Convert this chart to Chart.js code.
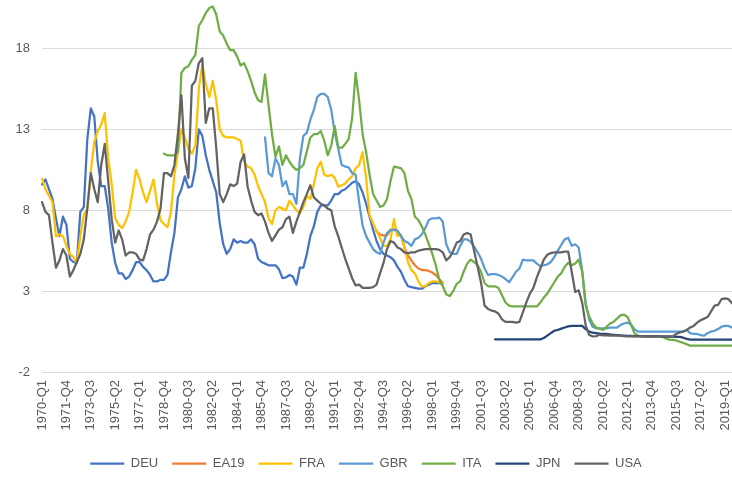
<!DOCTYPE html>
<html>
<head>
<meta charset="utf-8">
<script src="https://cdn.jsdelivr.net/npm/chart.js@4.4.1/dist/chart.umd.min.js"></script>
<style>
  html, body { margin: 0; padding: 0; background: #ffffff; }
</style>
</head>
<body>
<canvas id="rates" width="732" height="488"></canvas>
<script>
// quarterly short-term rates, 1970-Q1 .. 2019-Q3
const firstYear = 1970;
const quarterCount = 199;
const yTicks = [-2, 3, 8, 13, 18];

const deu = [ // from 1970-Q1
  9.6, 9.9, 9.3, 8.7, 7.5, 6.4, 7.6, 7.1, 5.0, 4.8,
  4.75, 7.9, 8.2, 12.4, 14.3, 13.8, 11.0, 9.5, 9.5, 8.1,
  6.0, 4.75, 4.1, 4.1, 3.75, 3.9, 4.3, 4.8, 4.8, 4.5,
  4.3, 4.0, 3.6, 3.6, 3.7, 3.7, 4.0, 5.4, 6.6, 8.8,
  9.3, 10.1, 9.4, 9.5, 10.6, 13.0, 12.6, 11.4, 10.5, 9.8,
  9.1, 7.2, 5.9, 5.3, 5.6, 6.2, 6.0, 6.1, 6.0, 6.0,
  6.2, 5.9, 5.0, 4.8, 4.7, 4.6, 4.6, 4.6, 4.35, 3.8,
  3.85, 4.0, 3.9, 3.4, 4.45, 4.45, 5.3, 6.4, 7.0, 7.9,
  8.3, 8.3, 8.3, 8.6, 9.0, 9.0, 9.2, 9.3, 9.5, 9.7,
  9.8, 9.6, 9.1, 8.4, 7.6, 6.8, 6.1, 5.6, 5.3, 5.2,
  5.1, 4.9, 4.5, 4.2, 3.7, 3.3, 3.25, 3.2, 3.15, 3.15,
  3.3, 3.4, 3.5, 3.5, 3.5, 3.45
];

const ea19Start = '1994-Q1';
const ea19 = [
  6.7, 6.5, 6.45, 6.45, 6.8, 6.8, 6.65, 6.45, 5.7, 5.2,
  4.9, 4.6, 4.4, 4.3, 4.3, 4.25, 4.15, 4.0, 3.75, 3.5
];

const fra = [ // from 1970-Q1
  9.95, 9.3, 8.9, 8.5, 6.4, 6.5, 6.4, 5.8, 5.3, 5.1,
  4.75, 6.4, 7.7, 8.1, 10.4, 12.2, 12.9, 13.3, 14.0, 11.2,
  9.6, 7.5, 7.1, 6.9, 7.3, 7.9, 9.1, 10.5, 9.9, 9.1,
  8.5, 9.2, 9.9, 8.4, 7.4, 7.15, 6.95, 7.9, 10.2, 11.6,
  13.0, 12.5, 11.8, 11.5, 12.0, 15.5, 17.0, 15.8, 15.0, 16.0,
  14.8, 13.0, 12.6, 12.5, 12.5, 12.5, 12.4, 12.3, 11.0, 10.7,
  10.6, 10.2, 9.5, 9.0, 8.5, 7.5, 7.15, 8.0, 8.2, 8.1,
  8.0, 8.6, 8.3, 8.0, 7.8, 8.2, 8.9, 8.7, 9.6, 10.6,
  11.0, 10.2, 10.1, 10.2, 10.0, 9.45, 9.55, 9.65, 9.9, 10.1,
  10.6, 10.8, 11.6, 10.0, 7.7, 7.2, 6.7, 6.3, 5.8, 5.8,
  6.2, 7.45, 6.4, 6.5, 5.7, 4.8, 4.3, 4.1, 3.6, 3.3,
  3.3, 3.5, 3.6, 3.6, 3.55, 3.45
];

const gbrStart = '1986-Q1';
const gbr = [
  12.5, 10.3, 10.1, 11.2, 10.8, 9.5,
  9.8, 9.0, 9.0, 8.4, 11.2, 12.6, 12.8, 13.6, 14.2, 15.0,
  15.2, 15.2, 15.0, 14.2, 12.8, 11.8, 10.8, 10.7, 10.65, 10.3,
  10.2, 8.5, 7.05, 6.4, 6.0, 5.6, 5.4, 5.3, 6.0, 6.6,
  6.75, 6.8, 6.75, 6.4, 6.1, 6.0, 5.8, 6.2, 6.3, 6.5,
  6.9, 7.4, 7.5, 7.5, 7.55, 7.3, 5.9, 5.4, 5.3, 5.3,
  5.8, 6.2, 6.2, 6.05, 5.75, 5.4, 5.0, 4.4, 4.0, 4.05,
  4.05, 4.0, 3.9, 3.75, 3.55, 3.85, 4.2, 4.4, 4.95, 4.9,
  4.9, 4.9, 4.7, 4.55, 4.6, 4.65, 4.8, 5.1, 5.5, 5.85,
  6.2, 6.3, 5.8, 5.9, 5.7, 4.3, 2.3, 1.25, 0.8, 0.7,
  0.7, 0.7, 0.7, 0.75, 0.75, 0.75, 0.9, 1.0, 1.05, 0.95,
  0.65, 0.5, 0.5, 0.5, 0.5, 0.5, 0.5, 0.5, 0.5, 0.5,
  0.5, 0.5, 0.5, 0.5, 0.5, 0.6, 0.4, 0.35, 0.35, 0.28,
  0.25, 0.4, 0.5, 0.55, 0.65, 0.8, 0.85, 0.85, 0.75
];

const itaStart = '1978-Q4';
const ita = [
  11.5, 11.4, 11.4, 11.4, 11.6,
  16.5, 16.8, 16.9, 17.3, 17.6, 19.4, 19.75, 20.2, 20.5, 20.6,
  20.1, 19.05, 18.8, 18.3, 17.9, 17.9, 17.5, 16.95, 17.1, 16.6,
  16.0, 15.3, 14.8, 14.7, 16.4, 14.5, 12.7, 11.3, 11.95, 10.8,
  11.4, 11.0, 10.7, 10.5, 10.6, 10.8, 11.65, 12.5, 12.7, 12.7,
  12.9, 12.3, 11.4, 12.0, 13.2, 11.9, 11.85, 12.1, 12.4, 13.7,
  16.5, 14.8, 12.7, 11.6, 10.2, 9.0, 8.6, 8.2, 8.3, 8.7,
  9.8, 10.7, 10.65, 10.6, 10.3, 9.2, 8.7, 7.6, 7.4, 7.0,
  6.5, 5.9, 5.3, 4.6, 3.7, 3.3, 2.8, 2.7, 3.0, 3.45,
  3.6, 4.2, 4.7, 4.95, 4.8, 4.6, 4.2, 3.5, 3.3, 3.3,
  3.3, 3.2, 2.75, 2.3, 2.1, 2.05, 2.05, 2.05, 2.05, 2.05,
  2.05, 2.05, 2.05, 2.3, 2.6, 2.85, 3.2, 3.55, 3.9, 4.1,
  4.5, 4.75, 4.6, 4.7, 4.95, 4.2, 2.1, 1.45, 1.0, 0.75,
  0.68, 0.6, 0.8, 1.0, 1.1, 1.3, 1.5, 1.55, 1.4, 0.95,
  0.4, 0.25, 0.2, 0.2, 0.2, 0.2, 0.2, 0.2, 0.18, 0.08,
  0.0, -0.02, -0.05, -0.13, -0.2, -0.28, -0.37, -0.37, -0.37, -0.37,
  -0.37, -0.37, -0.37, -0.37, -0.37, -0.37, -0.37, -0.37, -0.37
];

const jpnStart = '2002-Q3';
const jpn = [
  0.02, 0.02, 0.02, 0.02, 0.02, 0.02, 0.02, 0.02, 0.02, 0.02,
  0.02, 0.02, 0.02, 0.02, 0.1, 0.25, 0.4, 0.55, 0.6, 0.68,
  0.75, 0.82, 0.85, 0.85, 0.85, 0.85, 0.65, 0.5, 0.43, 0.4,
  0.37, 0.36, 0.35, 0.32, 0.3, 0.28, 0.26, 0.25, 0.24, 0.23,
  0.22, 0.22, 0.22, 0.21, 0.21, 0.2, 0.2, 0.2, 0.19, 0.19,
  0.18, 0.18, 0.17, 0.17, 0.12, 0.05, 0.0, 0.0, 0.0, 0.0,
  0.0, 0.0, 0.0, 0.0, 0.0, 0.0, 0.0, 0.0, 0.0
];

const usa = [ // from 1970-Q1
  8.5, 7.9, 7.7, 6.0, 4.45, 4.9, 5.6, 5.2, 3.9, 4.3,
  4.8, 5.3, 6.2, 8.1, 10.3, 9.3, 8.5, 10.8, 12.1, 9.8,
  7.45, 6.0, 6.75, 6.2, 5.2, 5.4, 5.4, 5.3, 4.95, 4.9,
  5.6, 6.5, 6.8, 7.3, 8.1, 10.3, 10.3, 10.1, 10.8, 12.7,
  15.1, 11.2, 10.0, 15.7, 16.0, 17.1, 17.4, 13.4, 14.3, 14.3,
  11.85, 9.0, 8.5, 9.0, 9.6, 9.5, 9.65, 11.0, 11.45, 9.45,
  8.6, 7.9, 7.7, 7.8, 7.3, 6.6, 6.1, 6.45, 6.8, 6.95,
  7.45, 7.6, 6.6, 7.3, 7.9, 8.5, 9.0, 9.55, 8.8, 8.6,
  8.4, 8.3, 8.1, 8.0, 7.0, 6.4, 5.7, 5.0, 4.4, 3.8,
  3.35, 3.4, 3.2, 3.2, 3.2, 3.25, 3.4, 4.1, 4.75, 5.6,
  6.1, 6.0, 5.7, 5.6, 5.4, 5.35, 5.4, 5.4, 5.5, 5.55,
  5.6, 5.6, 5.6, 5.6, 5.55, 5.4, 4.9, 5.1, 5.5, 6.0,
  6.1, 6.5, 6.6, 6.5, 5.5, 4.5, 3.5, 2.1, 1.9, 1.8,
  1.75, 1.6, 1.25, 1.1, 1.1, 1.1, 1.05, 1.1, 1.7, 2.3,
  2.85, 3.2, 3.85, 4.4, 4.95, 5.25, 5.35, 5.4, 5.4, 5.4,
  5.45, 5.45, 4.2, 2.95, 3.05, 2.3, 0.9, 0.3, 0.2, 0.22,
  0.3, 0.27, 0.27, 0.25, 0.25, 0.25, 0.25, 0.22, 0.2, 0.2,
  0.2, 0.2, 0.2, 0.2, 0.2, 0.2, 0.2, 0.2, 0.2, 0.2,
  0.2, 0.2, 0.35, 0.45, 0.5, 0.6, 0.75, 0.85, 1.05, 1.2,
  1.3, 1.4, 1.75, 2.1, 2.15, 2.5, 2.55, 2.5, 2.25
];

const quarters = [];
for (let i = 0; i < quarterCount; i++) {
  quarters.push((firstYear + Math.floor(i / 4)) + '-Q' + (i % 4 + 1));
}

function fromQuarter(start, values) {
  const out = new Array(quarterCount).fill(null);
  const at = quarters.indexOf(start);
  values.forEach((v, k) => { out[at + k] = v; });
  return out;
}

const series = [
  { label: 'DEU',  data: fromQuarter('1970-Q1', deu), color: '#4472C4' },
  { label: 'EA19', data: fromQuarter(ea19Start, ea19), color: '#ED7D31' },
  { label: 'FRA',  data: fromQuarter('1970-Q1', fra), color: '#FFC000' },
  { label: 'GBR',  data: fromQuarter(gbrStart, gbr), color: '#5B9BD5' },
  { label: 'ITA',  data: fromQuarter(itaStart, ita), color: '#70AD47' },
  { label: 'JPN',  data: fromQuarter(jpnStart, jpn), color: '#264478' },
  { label: 'USA',  data: fromQuarter('1970-Q1', usa), color: '#636363' }
];

const font = { family: '"Liberation Sans", Arial, sans-serif', size: 13 };

new Chart(document.getElementById('rates'), {
  type: 'line',
  data: {
    labels: quarters,
    datasets: series.map((s, i) => ({
      label: s.label,
      data: s.data,
      borderColor: s.color,
      backgroundColor: s.color,
      borderWidth: 2.25,
      pointRadius: 0,
      tension: 0,
      borderJoinStyle: 'round',
      borderCapStyle: 'round',
      // later series sit on top, like the spreadsheet
      order: series.length - i
    }))
  },
  options: {
    responsive: false,
    animation: false,
    devicePixelRatio: 1,
    layout: { padding: { bottom: 8 } },
    plugins: {
      tooltip: { enabled: false },
      legend: {
        position: 'bottom',
        labels: {
          usePointStyle: true,
          pointStyle: 'line',
          pointStyleWidth: 34,
          padding: 14,
          color: '#595959',
          font: font,
          sort: (a, b) => a.datasetIndex - b.datasetIndex
        }
      }
    },
    scales: {
      x: {
        grid: { display: false, drawTicks: false },
        border: { display: false },
        ticks: {
          autoSkip: false,
          minRotation: 90,
          maxRotation: 90,
          padding: 8,
          color: '#595959',
          font: font,
          callback: function (value, index) {
            return index % 7 === 0 ? quarters[index] : '';
          }
        },
        afterFit: function (scale) {
          scale.height = 71;
          scale.paddingLeft = 0;
          scale.paddingRight = 0;
        }
      },
      y: {
        min: -2,
        max: 21,
        grid: { color: '#D9D9D9', lineWidth: 1, drawTicks: false },
        border: { display: false },
        ticks: {
          padding: 12,
          color: '#595959',
          font: font
        },
        afterBuildTicks: function (scale) {
          scale.ticks = yTicks.map(v => ({ value: v }));
        },
        afterFit: function (scale) {
          scale.width = 42;
          scale.paddingTop = 0;
          scale.paddingBottom = 0;
        }
      }
    }
  }
});
</script>
</body>
</html>
